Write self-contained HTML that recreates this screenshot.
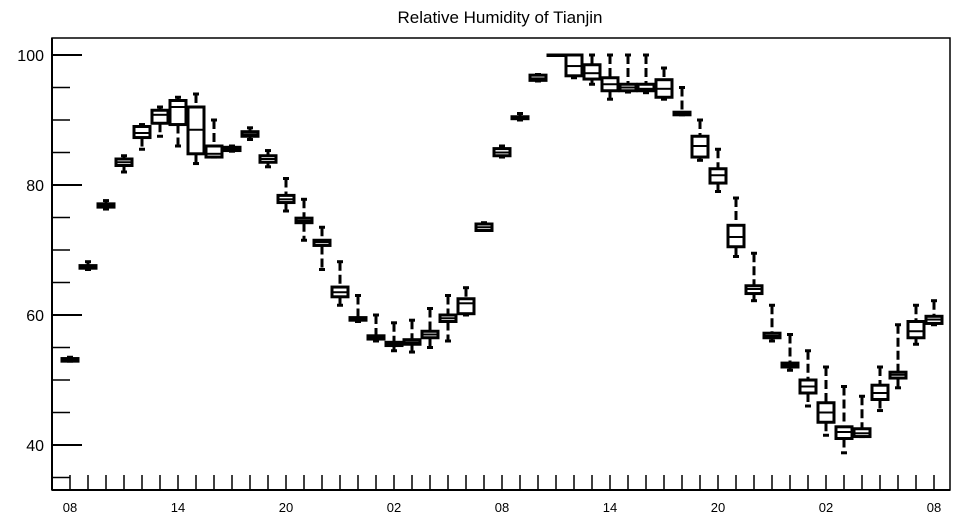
<!DOCTYPE html>
<html><head><meta charset="utf-8"><style>
body{margin:0;background:#fff}
svg{display:block;font-family:"Liberation Sans",sans-serif}
</style></head><body>
<svg id="c" width="957" height="520">
<text x="500" y="23" text-anchor="middle" font-size="17">Relative Humidity of Tianjin</text>
</svg>
<script>
const hours=[0,1,2,3,4,5,6,7,8,9,10,11,12,13,14,15,16,17,18,19,20,21,22,23,24,25,26,27,28,29,30,31,32,33,34,35,36,37,38,39,40,41,42,43,44,45,46,47,48];
const mins=[52.9,67.0,76.3,82.0,85.5,87.5,86.0,83.3,84.3,85.2,87.0,82.8,76.0,71.5,67.0,61.5,59.0,56.0,54.5,54.3,55.0,56.0,60.0,73.0,84.3,90.0,96.0,100,96.5,95.5,93.2,94.3,94.2,93.2,90.8,83.8,79.0,69.0,62.2,56.0,51.5,46.0,41.5,38.8,41.3,45.3,48.8,55.5,58.5];
const q1s=[52.9,67.2,76.6,83.0,87.3,89.5,89.3,84.8,84.3,85.3,87.5,83.5,77.3,74.2,70.7,62.8,59.2,56.3,55.3,55.5,56.5,59.0,60.2,73.0,84.5,90.2,96.1,100,96.8,96.3,94.5,94.5,94.5,93.5,90.8,84.3,80.3,70.5,63.3,56.5,52.0,48.0,43.5,41.0,41.3,47.0,50.3,56.5,58.7];
const meds=[53.1,67.4,76.9,83.5,88.0,90.8,92.0,88.5,84.8,85.6,87.8,84.0,77.8,74.5,71.2,63.5,59.4,56.6,55.5,55.8,57.0,59.5,61.8,73.5,85.0,90.3,96.4,100,98.3,97.2,95.5,95.0,94.8,94.8,91.0,86.0,81.5,72.0,64.0,56.8,52.3,49.0,45.0,42.0,41.8,48.0,50.8,57.5,59.3];
const q3s=[53.3,67.6,77.1,84.0,89.0,91.5,93.0,92.0,86.0,85.8,88.2,84.5,78.4,74.9,71.5,64.3,59.6,56.8,55.8,56.2,57.5,60.0,62.5,74.0,85.6,90.5,96.9,100,100,98.5,96.5,95.5,95.5,96.2,91.2,87.5,82.5,73.8,64.5,57.2,52.6,50.0,46.5,42.8,42.5,49.2,51.2,59.0,59.8];
const maxs=[53.5,68.2,77.6,84.5,89.3,92.0,93.5,94.0,90.0,86.0,88.8,85.3,81.0,77.8,73.5,68.2,63.0,60.0,58.8,59.2,61.0,63.0,64.2,74.2,86.0,91.0,97.0,100,100,100,100,100,100,98.0,95.0,90.0,85.5,78.0,69.5,61.5,57.0,54.5,52.0,49.0,47.5,52.0,58.5,61.5,62.2];
const yMajor=[40,60,80,100];
const yMinor=[35,45,50,55,65,70,75,85,90,95];
const xLabels=["08","14","20","02","08","14","20","02","08"];
const NS="http://www.w3.org/2000/svg";
const svg=document.getElementById('c');
const L=52,R=950,T=38,B=490;
const y=v=>55+(100-v)*6.5;
const x=h=>70+h*18;
function mk(t,a,p){const e=document.createElementNS(NS,t);for(const k in a)e.setAttribute(k,a[k]);(p||svg).appendChild(e);return e;}
const frame=mk('rect',{x:L,y:T,width:R-L,height:B-T,fill:'none',stroke:'#000','stroke-width':1.5});


const ax=mk('g',{stroke:'#000','stroke-width':2});


mk('line',{x1:L,y1:T,x2:L,y2:B},ax);
mk('line',{x1:L,y1:B,x2:R,y2:B},ax);
yMajor.forEach(v=>{
 mk('line',{x1:L,y1:y(v),x2:L+30,y2:y(v)},ax);
 const t=mk('text',{x:L-8,y:y(v)+6,'text-anchor':'end','font-size':16,stroke:'none'});
 t.textContent=v;
 
 
});
yMinor.forEach(v=>{mk('line',{x1:L,y1:y(v),x2:L+18,y2:y(v),'stroke-width':1.5},ax);});
hours.forEach(h=>{mk('line',{x1:x(h),y1:B,x2:x(h),y2:B-15,'stroke-width':1.5},ax);});
xLabels.forEach((s,i)=>{
 const t=mk('text',{x:x(i*6),y:512,'text-anchor':'middle','font-size':13,stroke:'none'});
 t.textContent=s;
 
 
});
hours.forEach((h,i)=>{
 const g=mk('g',{stroke:'#000',fill:'none'});
 
 
 const cx=x(h),w=8;
 mk('line',{x1:cx,y1:y(maxs[i]),x2:cx,y2:y(q3s[i]),'stroke-width':3,'stroke-dasharray':'9,4'},g);
 mk('line',{x1:cx,y1:y(q1s[i]),x2:cx,y2:y(mins[i]),'stroke-width':3,'stroke-dasharray':'9,4'},g);
 mk('line',{x1:cx-3,y1:y(maxs[i]),x2:cx+3,y2:y(maxs[i]),'stroke-width':3},g);
 mk('line',{x1:cx-3,y1:y(mins[i]),x2:cx+3,y2:y(mins[i]),'stroke-width':3},g);
 mk('rect',{x:cx-w,y:y(q3s[i]),width:2*w,height:Math.max(y(q1s[i])-y(q3s[i]),0.5),'stroke-width':3,fill:'#fff'},g);
 mk('line',{x1:cx-w,y1:y(meds[i]),x2:cx+w,y2:y(meds[i]),'stroke-width':2},g);
});
</script>
</body></html>
